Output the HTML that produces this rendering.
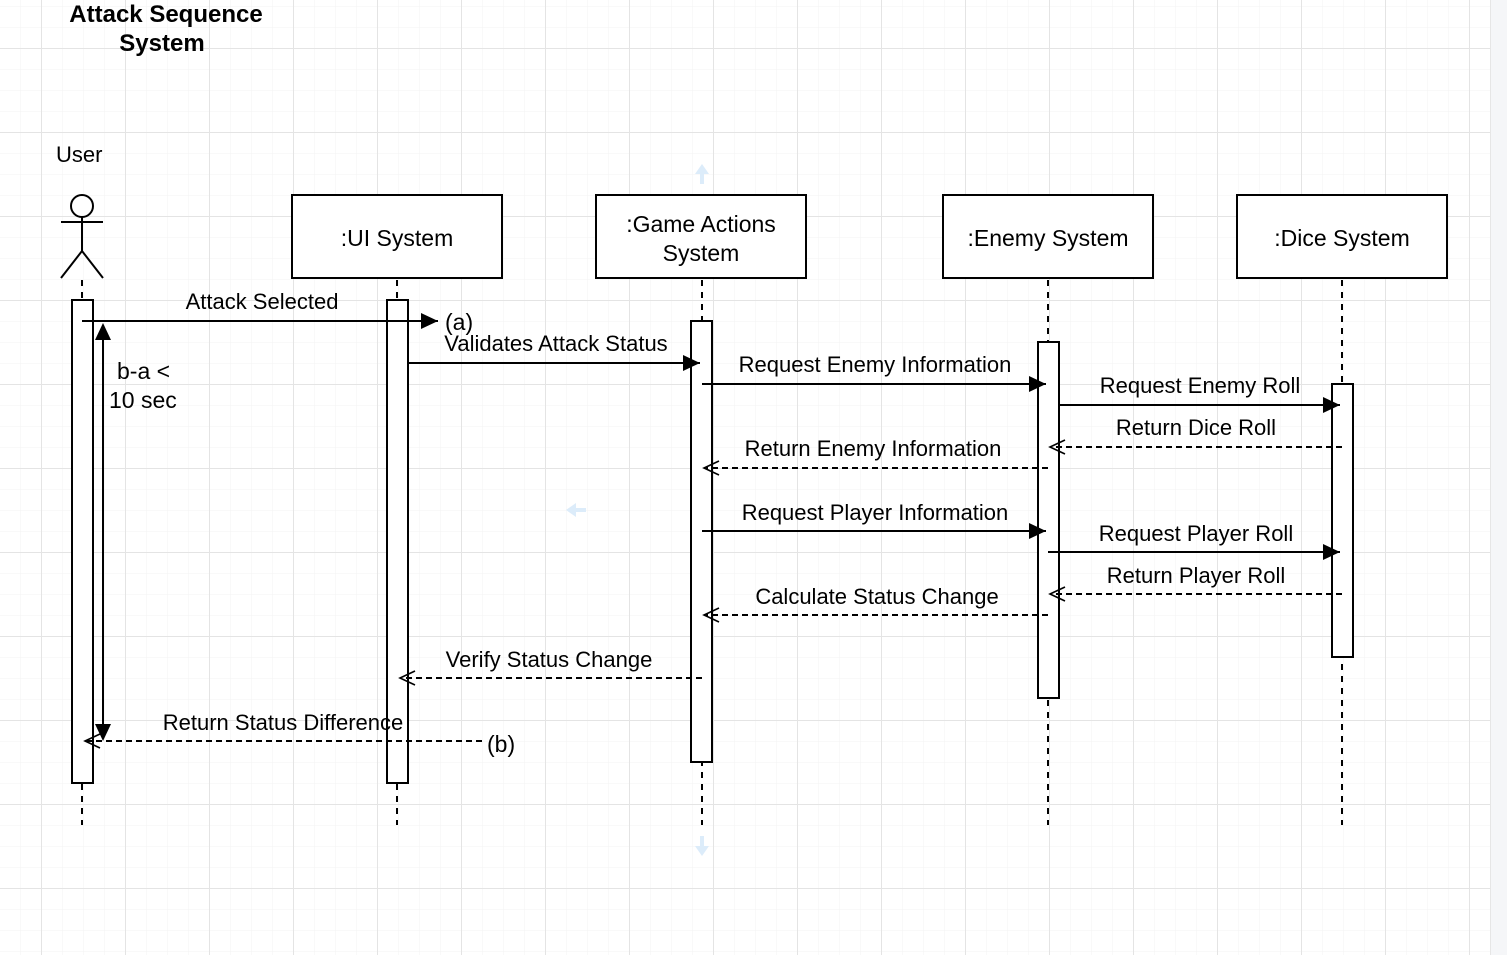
<!DOCTYPE html>
<html><head><style>body{margin:0;background:#fff}svg{display:block}text{font-family:"Liberation Sans",Arial,sans-serif;fill:#000}</style></head>
<body>
<svg width="1507" height="955" viewBox="0 0 1507 955" xmlns="http://www.w3.org/2000/svg">
<defs>
<pattern id="minor" x="-1" y="6" width="21" height="21" patternUnits="userSpaceOnUse"><path d="M0 0H21M0 0V21" stroke="#f3f3f3" stroke-width="1" fill="none"/></pattern>
<pattern id="major" x="41" y="48" width="84" height="84" patternUnits="userSpaceOnUse"><path d="M0 0.5H84M0.5 0V84" stroke="#e4e4e4" stroke-width="1" fill="none"/></pattern>
<marker id="fa" markerWidth="18" markerHeight="18" refX="17" refY="8" orient="auto" markerUnits="userSpaceOnUse"><path d="M0 0L17 8L0 16z" fill="#000"/></marker>
<marker id="oa" markerWidth="18" markerHeight="18" refX="16" refY="8" orient="auto" markerUnits="userSpaceOnUse"><path d="M1 1L16 8L1 15" fill="none" stroke="#000" stroke-width="1.6"/></marker>
</defs>
<rect width="1490" height="955" fill="url(#minor)"/>
<rect width="1490" height="955" fill="url(#major)"/>
<rect x="1490" y="0" width="17" height="955" fill="#f5f6f8"/>
<line x1="1490.5" y1="0" x2="1490.5" y2="955" stroke="#e6e6e6"/>

<text x="166" y="22" font-size="24" font-weight="bold" text-anchor="middle">Attack Sequence</text>
<text x="162" y="51" font-size="24" font-weight="bold" text-anchor="middle">System</text>
<text x="56" y="162" font-size="22">User</text>

<g stroke="#000" stroke-width="2" fill="none">
<circle cx="82" cy="206" r="11" fill="#fff"/>
<path d="M82 217V251M61 222H103M61 278L82 251L103 278"/>
</g>
<g stroke="#000" stroke-width="2" stroke-dasharray="6 6">
<line x1="82" y1="280" x2="82" y2="825"/>
<line x1="397" y1="280" x2="397" y2="825"/>
<line x1="702" y1="280" x2="702" y2="825"/>
<line x1="1048" y1="280" x2="1048" y2="825"/>
<line x1="1342" y1="280" x2="1342" y2="825"/>
</g>
<g stroke="#000" stroke-width="2" fill="#fff">
<rect x="292" y="195" width="210" height="83"/>
<rect x="596" y="195" width="210" height="83"/>
<rect x="943" y="195" width="210" height="83"/>
<rect x="1237" y="195" width="210" height="83"/>
<rect x="72" y="300" width="21" height="483"/>
<rect x="387" y="300" width="21" height="483"/>
<rect x="691" y="321" width="21" height="441"/>
<rect x="1038" y="342" width="21" height="356"/>
<rect x="1332" y="384" width="21" height="273"/>
</g>
<g font-size="23" text-anchor="middle">
<text x="397" y="246">:UI System</text>
<text x="701" y="232">:Game Actions</text>
<text x="701" y="261">System</text>
<text x="1048" y="246">:Enemy System</text>
<text x="1342" y="246">:Dice System</text>
</g>

<g stroke="#000" stroke-width="2" fill="none">
<line x1="82" y1="321" x2="438" y2="321" marker-end="url(#fa)"/>
<line x1="408" y1="363" x2="700" y2="363" marker-end="url(#fa)"/>
<line x1="702" y1="384" x2="1046" y2="384" marker-end="url(#fa)"/>
<line x1="1059" y1="405" x2="1340" y2="405" marker-end="url(#fa)"/>
<line x1="702" y1="531" x2="1046" y2="531" marker-end="url(#fa)"/>
<line x1="1048" y1="552" x2="1340" y2="552" marker-end="url(#fa)"/>
<line x1="103" y1="340" x2="103" y2="725"/>
</g>
<path d="M103 323L95 340H111z" fill="#000"/>
<path d="M103 741L95 724H111z" fill="#000"/>
<g stroke="#000" stroke-width="2" fill="none" stroke-dasharray="6 4">
<line x1="1342" y1="447" x2="1050" y2="447" marker-end="url(#oa)"/>
<line x1="1048" y1="468" x2="704" y2="468" marker-end="url(#oa)"/>
<line x1="1342" y1="594" x2="1050" y2="594" marker-end="url(#oa)"/>
<line x1="1048" y1="615" x2="704" y2="615" marker-end="url(#oa)"/>
<line x1="702" y1="678" x2="400" y2="678" marker-end="url(#oa)"/>
<line x1="482" y1="741" x2="85" y2="741" marker-end="url(#oa)"/>
</g>
<g font-size="22" text-anchor="middle">
<text x="262" y="309">Attack Selected</text>
<text x="556" y="351">Validates Attack Status</text>
<text x="875" y="372">Request Enemy Information</text>
<text x="1200" y="393">Request Enemy Roll</text>
<text x="1196" y="435">Return Dice Roll</text>
<text x="873" y="456">Return Enemy Information</text>
<text x="875" y="520">Request Player Information</text>
<text x="1196" y="541">Request Player Roll</text>
<text x="1196" y="583">Return Player Roll</text>
<text x="877" y="604">Calculate Status Change</text>
<text x="549" y="667">Verify Status Change</text>
<text x="283" y="730">Return Status Difference</text>
</g>
<g font-size="23">
<text x="445" y="330">(a)</text>
<text x="487" y="752">(b)</text>
<text x="117" y="379">b-a &lt;</text>
<text x="109" y="408">10 sec</text>
</g>
<g fill="#dcecfa">
<path d="M702 164L695 174H700V184H704V174H709z"/>
<path d="M566 510L576 503V508H586V512H576V517z"/>
<path d="M702 856L695 846H700V836H704V846H709z"/>
</g>
</svg>
</body></html>
